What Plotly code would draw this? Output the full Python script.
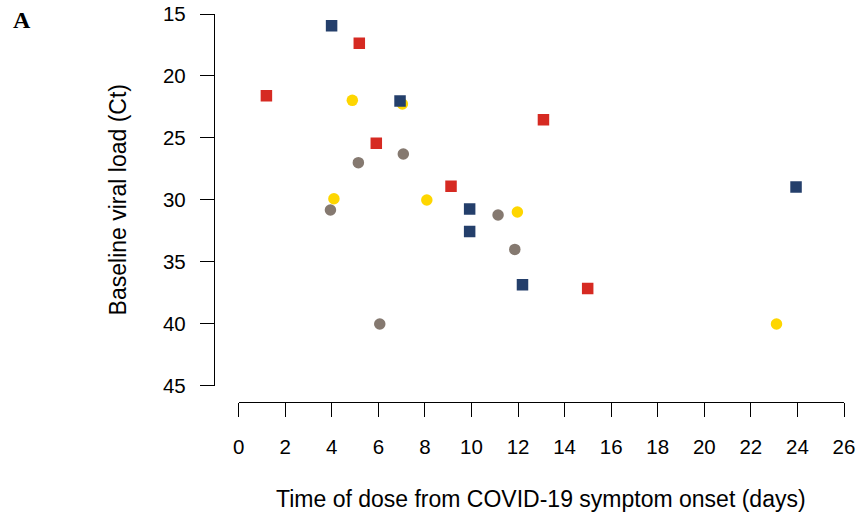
import plotly.graph_objects as go

# ---- data ----
navy_x = [3.99, 6.93, 9.92, 9.92, 12.19, 23.94]
navy_y = [15.94, 22.02, 30.74, 32.55, 36.85, 28.96]

red_x = [5.18, 1.19, 13.09, 5.91, 9.12, 14.99]
red_y = [17.37, 21.59, 23.53, 25.44, 28.90, 37.15]

yellow_x = [4.88, 7.03, 4.09, 8.08, 11.97, 23.10]
yellow_y = [21.97, 22.26, 29.91, 30.01, 30.98, 40.02]

gray_x = [7.07, 5.14, 3.94, 11.14, 11.86, 6.06]
gray_y = [26.30, 27.00, 30.82, 31.22, 34.00, 40.02]

x_ticks = list(range(0, 27, 2))
y_ticks = [15, 20, 25, 30, 35, 40, 45]

NAVY = "#243F6B"
RED = "#D62A22"
YELLOW = "#FED600"
GRAY = "#857970"

FONT = "Liberation Sans"

fig = go.Figure()
fig.add_trace(go.Scatter(x=gray_x, y=gray_y, mode="markers",
                         marker=dict(symbol="circle", size=11.5, color=GRAY, line=dict(width=0)),
                         showlegend=False))
fig.add_trace(go.Scatter(x=yellow_x, y=yellow_y, mode="markers",
                         marker=dict(symbol="circle", size=11.5, color=YELLOW, line=dict(width=0)),
                         showlegend=False))
fig.add_trace(go.Scatter(x=red_x, y=red_y, mode="markers",
                         marker=dict(symbol="square", size=11.5, color=RED, line=dict(width=0)),
                         showlegend=False))
fig.add_trace(go.Scatter(x=navy_x, y=navy_y, mode="markers",
                         marker=dict(symbol="square", size=11.5, color=NAVY, line=dict(width=0)),
                         showlegend=False))

# body margin removed in the page (post_script), so figure pixels = screen pixels
W, H = 864, 522
L = 214.3                  # y-axis line
T = 14.3                   # y=15 tick
R = 864 - 844.3            # x=26 tick
B = 522 - 402.3            # x-axis line
pw = W - L - R
ph = H - T - B

def px(x):
    return (x - L) / pw

def py(y):
    return (H - B - y) / ph

fig.update_layout(
    width=W, height=H,
    margin=dict(l=L, r=R, t=T, b=B, autoexpand=False),
    plot_bgcolor="white", paper_bgcolor="white",
    font=dict(family=FONT, size=20, color="black"),
    xaxis=dict(
        range=[0, 26], domain=[px(239), 1], anchor="free", position=0,
        tickmode="array", tickvals=x_ticks, ticktext=[str(v) for v in x_ticks],
        ticks="outside", ticklen=14, tickwidth=1.3, tickcolor="black",
        showline=True, linewidth=1.3, linecolor="black",
        showgrid=False, zeroline=False, ticklabelstandoff=12,
        ticklabeloverflow="allow",
        tickfont=dict(family=FONT, size=20.5),
    ),
    yaxis=dict(
        range=[45, 15], domain=[py(386), 1], anchor="free", position=0,
        tickmode="array", tickvals=y_ticks, ticktext=[str(v) for v in y_ticks],
        ticks="outside", ticklen=14, tickwidth=1.3, tickcolor="black",
        showline=True, linewidth=1.3, linecolor="black",
        showgrid=False, zeroline=False, ticklabelstandoff=10,
        ticklabeloverflow="allow",
        tickfont=dict(family=FONT, size=20.5),
    ),
    annotations=[
        dict(text="Baseline viral load (Ct)", xref="paper", yref="paper",
             x=px(118), y=py(200), textangle=-90, showarrow=False,
             xanchor="center", yanchor="middle", font=dict(family=FONT, size=23)),
        dict(text="Time of dose from COVID-19 symptom onset (days)", xref="paper", yref="paper",
             x=px(541.6), y=py(499), showarrow=False,
             xanchor="center", yanchor="middle", font=dict(family=FONT, size=23)),
        dict(text="<b>A</b>", xref="paper", yref="paper",
             x=px(22), y=py(20), showarrow=False,
             xanchor="center", yanchor="middle", font=dict(family="Liberation Serif", size=24)),
    ],
)

fig.write_html(
    "out.html",
    config={"displayModeBar": False},
    post_script="document.body.style.margin='0';document.body.style.overflow='hidden';",
)
